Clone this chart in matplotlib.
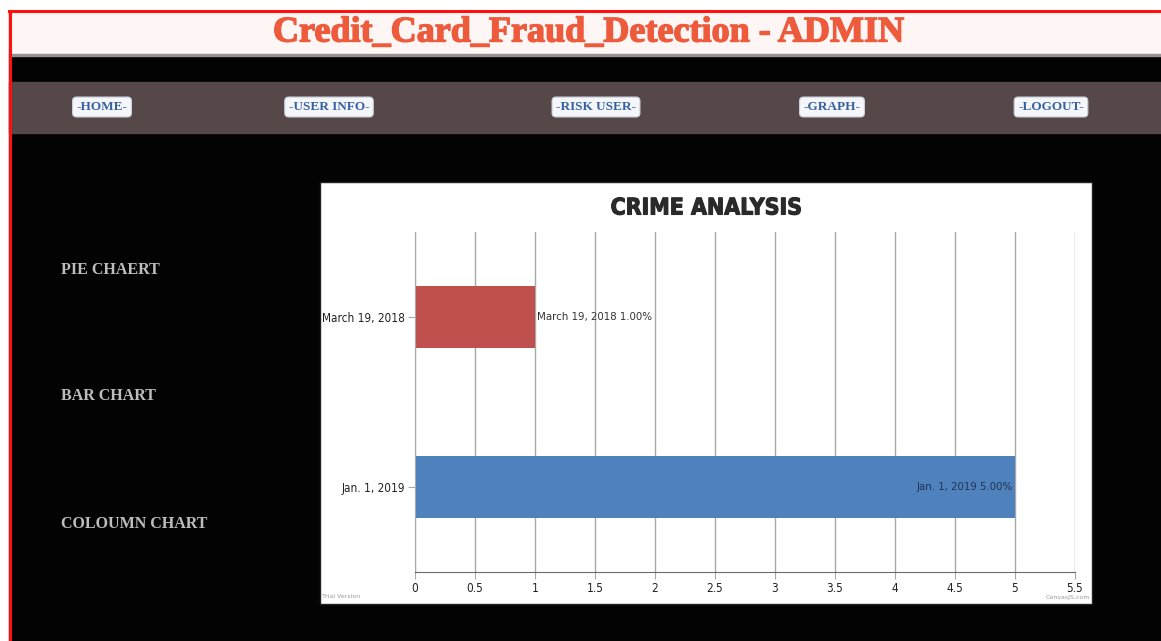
import numpy as np
import matplotlib
matplotlib.use('Agg')
import matplotlib.pyplot as plt
import matplotlib.patheffects as pe
from matplotlib.patches import Rectangle

# chart data
categories = ['March 19, 2018', 'Jan. 1, 2019']
values = [1, 5]
bar_colors = ['#C0504E', '#4F81BC']
bar_labels = ['March 19, 2018 1.00%', 'Jan. 1, 2019 5.00%']
xticks = [0, 0.5, 1, 1.5, 2, 2.5, 3, 3.5, 4, 4.5, 5, 5.5]
xtick_labels = ['0', '0.5', '1', '1.5', '2', '2.5', '3', '3.5', '4', '4.5', '5', '5.5']

# page text
page_title = 'Credit_Card_Fraud_Detection - ADMIN'
nav_items = ['-HOME-', '-USER INFO-', '-RISK USER-', '-GRAPH-', '-LOGOUT-']
nav_x = [102, 329, 596, 832, 1051]
menu_items = ['PIE CHAERT', 'BAR CHART', 'COLOUMN CHART']
menu_y = [270, 396, 524]

serif = ['Liberation Serif', 'DejaVu Serif']
narrow = ['DejaVu Sans']

W, H = 1161, 641
fig = plt.figure(figsize=(W / 100, H / 100), dpi=100)
fig.patch.set_facecolor('white')

# page background drawn in pixel coordinates
bg = fig.add_axes([0, 0, 1, 1])
bg.set_xlim(0, W)
bg.set_ylim(H, 0)
bg.axis('off')

bg.add_patch(Rectangle((9, 11), W - 9, H - 11, color='#030303', zorder=0))
bg.add_patch(Rectangle((9, 11), W - 9, 44, color='#fdf6f4', zorder=1))
bg.add_patch(Rectangle((9, 54), W - 9, 2, color='#9a9090', zorder=1))
bg.add_patch(Rectangle((9, 82), W - 9, 51, color='#564848', zorder=1))
bg.plot([9, W], [11, 11], color='#ff1010', lw=2.2, zorder=3)
bg.plot([9.5, 9.5], [11, H], color='#ff1010', lw=2.2, zorder=3)

bg.text(589, 33, page_title, color='#ee5a3c', fontsize=26, fontweight='bold',
        family=serif, fontstretch='condensed', ha='center', va='center',
        zorder=4, path_effects=[pe.withStroke(linewidth=1, foreground='#ee5a3c')])

for label, x in zip(nav_items, nav_x):
    bg.text(x, 107, label, color='#3560a0', fontsize=9.5, fontweight='bold',
            family=serif, ha='center', va='center', zorder=4,
            bbox=dict(boxstyle='round,pad=0.3,rounding_size=0.3',
                      fc='#f4f6fa', ec='#c8d0dc', lw=0.8))

for label, y in zip(menu_items, menu_y):
    bg.text(61, y, label, color='#bdbdbd', fontsize=11.5, fontweight='bold',
            family=serif, ha='left', va='center', zorder=4)

# white chart panel
bg.add_patch(Rectangle((320, 182), 772, 422, fc='white', ec='#222222', lw=1,
                       zorder=2))
bg.text(706, 208, 'CRIME ANALYSIS', color='#2a2a2a', fontsize=16.5,
        fontweight='heavy', family=narrow, fontstretch='condensed',
        ha='center', va='center', zorder=4,
        path_effects=[pe.withStroke(linewidth=0.8, foreground='#2a2a2a')])
bg.text(322, 597, 'Trial Version', color='#999999', fontsize=4.5,
        ha='left', va='center', zorder=4)
bg.text(1090, 597, 'CanvasJS.com', color='#999999', fontsize=4.5,
        ha='right', va='center', zorder=4)

# plot area
ax = fig.add_axes([415 / W, (H - 572) / H, 660 / W, 340 / H])
ax.set_facecolor('white')
ypos = np.arange(len(categories))
ax.barh(ypos, values, height=0.37, color=bar_colors, zorder=2)
ax.set_xlim(0, 5.5)
ax.set_ylim(1.5, -0.5)
ax.set_xticks(xticks)
ax.set_xticklabels(xtick_labels)
ax.set_yticks(ypos)
ax.set_yticklabels(categories)
ax.grid(axis='x', color='#a8a8a8', lw=1, zorder=0)
for s in ['top', 'right']:
    ax.spines[s].set_visible(False)
ax.spines['left'].set_color('#a8a8a8')
ax.spines['bottom'].set_color('#6a6a6a')
ax.tick_params(axis='both', colors='#a8a8a8', labelcolor='#222222',
               labelsize=8.5, length=5, pad=2)
for t in ax.get_xticklabels() + ax.get_yticklabels():
    t.set_family(narrow)
    t.set_fontstretch('condensed')

# index labels
ax.text(values[0] + 0.02, ypos[0], bar_labels[0], color='#333333', fontsize=8.2,
        family=narrow, fontstretch='condensed', ha='left', va='center')
ax.text(values[1] - 0.02, ypos[1], bar_labels[1], color='#223355', fontsize=8.2,
        family=narrow, fontstretch='condensed', ha='right', va='center')

fig.savefig('out.png', dpi=100)
